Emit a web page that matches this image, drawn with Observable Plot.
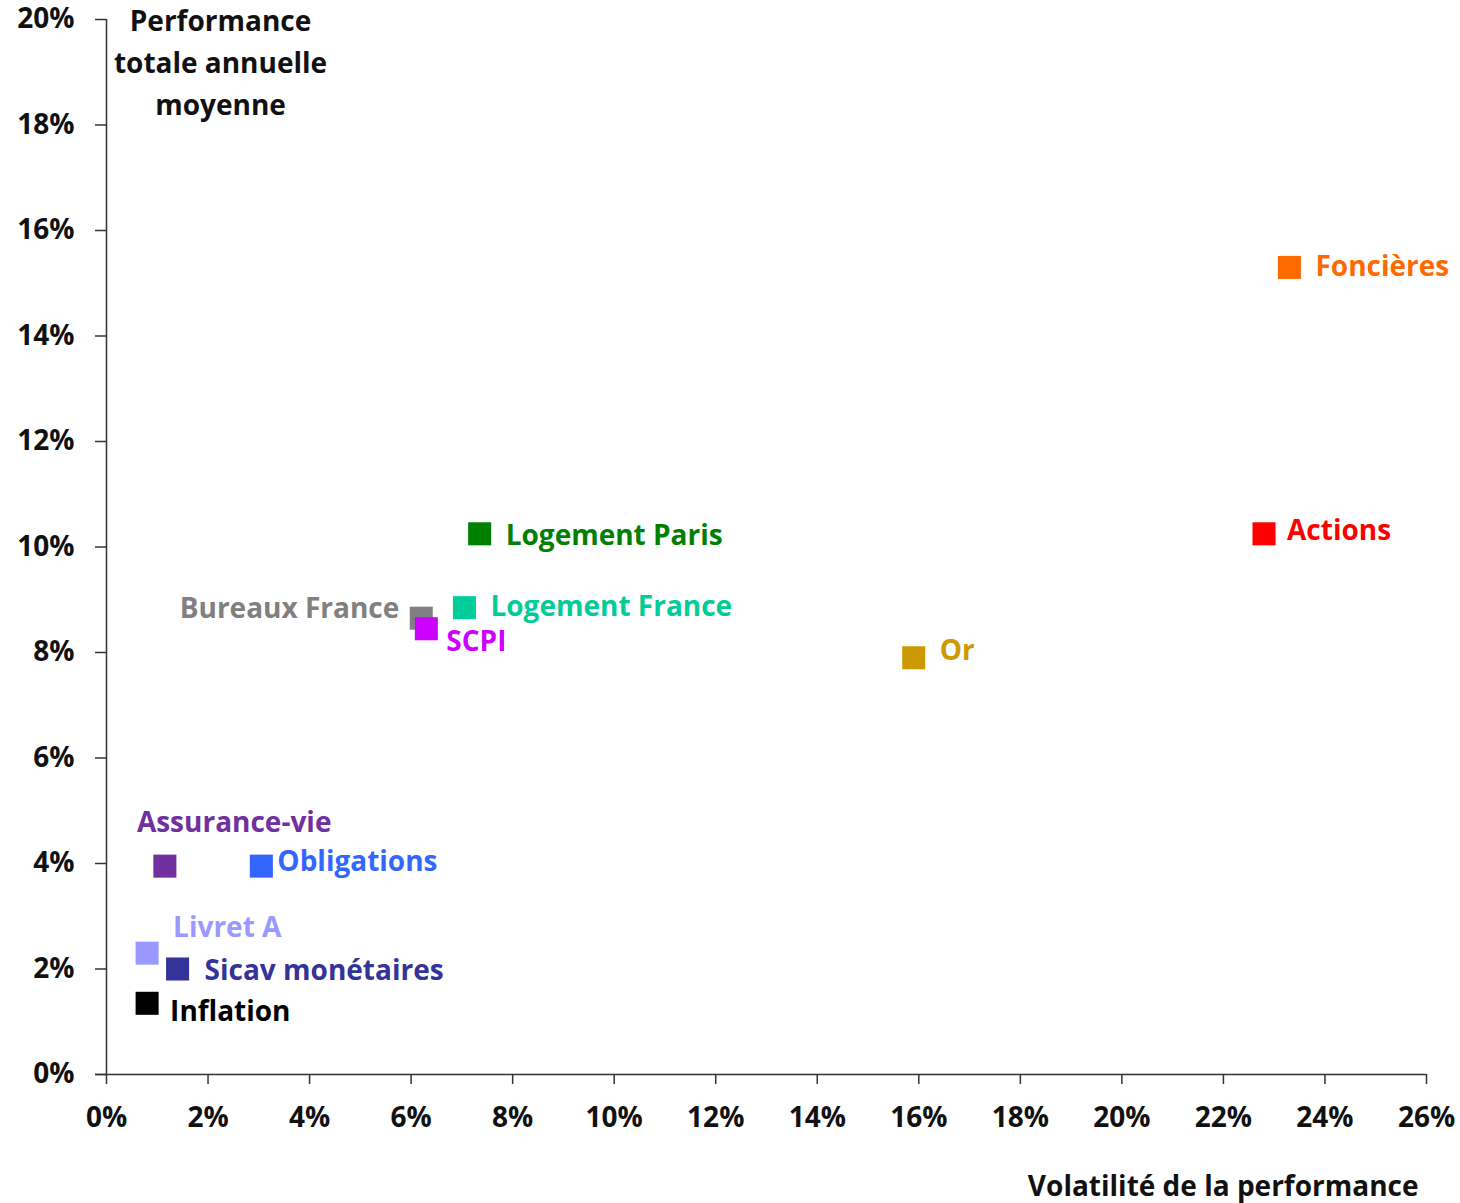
<!DOCTYPE html>
<html>
<head>
<meta charset="utf-8">
<script src="https://cdn.jsdelivr.net/npm/d3@7"></script>
<script src="https://cdn.jsdelivr.net/npm/@observablehq/plot@0.6"></script>
<style>
  html, body { margin: 0; padding: 0; background: #fff; }
  #chart { width: 1460px; height: 1203px; }
</style>
</head>
<body>
<div id="chart"></div>
<script>
// ---- Data ----
const names = ["Foncières", "Actions", "Logement Paris", "Bureaux France", "Logement France", "SCPI", "Or",
               "Assurance-vie", "Obligations", "Livret A", "Sicav monétaires", "Inflation"];
const volatility = [23.3, 22.8, 7.35, 6.2, 7.05, 6.3, 15.9, 1.15, 3.05, 0.8, 1.4, 0.8];
const performance = [15.3, 10.25, 10.25, 8.65, 8.85, 8.45, 7.9, 3.95, 3.95, 2.3, 2.0, 1.35];
const colors = ["#FF6A00", "#FF0000", "#008000", "#808080", "#00CC99", "#CC00FF", "#CC9900",
                "#7030A0", "#3366FF", "#9999FF", "#333399", "#000000"];
const xTicks = d3.range(0, 27, 2);
const yTicks = d3.range(0, 21, 2);
const xTitle = "Volatilité de la performance";
const yTitle = "Performance\ntotale annuelle\nmoyenne";

// ---- Label placement (layout only) ----
const labelLayout = {
  "Foncières":        {dx: 26, dy: 0,   anchor: "start"},
  "Actions":          {dx: 23, dy: -3,  anchor: "start"},
  "Logement Paris":   {dx: 26, dy: 2,   anchor: "start"},
  "Bureaux France":   {dx: -22, dy: -9, anchor: "end"},
  "Logement France":  {dx: 26, dy: -1,  anchor: "start"},
  "SCPI":             {dx: 20, dy: 13,  anchor: "start"},
  "Or":               {dx: 26, dy: -7,  anchor: "start"},
  "Assurance-vie":    {dx: -28, dy: -43, anchor: "start"},
  "Obligations":      {dx: 16, dy: -4,  anchor: "start"},
  "Livret A":         {dx: 26, dy: -25, anchor: "start"},
  "Sicav monétaires": {dx: 27, dy: 2,   anchor: "start"},
  "Inflation":        {dx: 23, dy: 9,   anchor: "start"}
};

const data = names.map((n, i) => ({name: n, vol: volatility[i], perf: performance[i], color: colors[i]}));

const font = "'Open Sans', Lato, sans-serif";
const pct = d => d + "%";
const FS = 28;

const labelMarks = data.map(d => {
  const L = labelLayout[d.name];
  return Plot.text([d], {
    x: "vol", y: "perf", text: "name", fill: "color",
    dx: L.dx, dy: L.dy, textAnchor: L.anchor,
    fontSize: FS, fontWeight: 700
  });
});

const chart = Plot.plot({
  width: 1460,
  height: 1203,
  marginLeft: 106,
  marginRight: 34,
  marginTop: 19,
  marginBottom: 129,
  style: {fontFamily: font, background: "#fff", overflow: "visible"},
  x: {domain: [0, 26]},
  y: {domain: [0, 20]},
  color: {type: "identity"},
  marks: [
    Plot.ruleY([0], {stroke: "#333", strokeWidth: 1.5, insetLeft: -11}),
    Plot.ruleX([0], {stroke: "#333", strokeWidth: 1.5}),
    Plot.axisX({ticks: xTicks, tickFormat: pct, tickSize: 10, tickPadding: 23,
                fontSize: FS, fontWeight: 700, fill: "#111", stroke: "#333", strokeWidth: 1.5, label: null}),
    Plot.axisY({ticks: yTicks, tickFormat: pct, tickSize: 11, tickPadding: 21,
                fontSize: FS, fontWeight: 700, fill: "#111", stroke: "#333", strokeWidth: 1.5, label: null}),
    Plot.dot(data, {x: "vol", y: "perf", symbol: "square", r: 13, fill: "color", stroke: null}),
    ...labelMarks,
    Plot.text([yTitle], {frameAnchor: "top-left", dx: 114, dy: 40, textAnchor: "middle",
                         lineAnchor: "middle", lineHeight: 1.5, fontSize: FS, fontWeight: 700, fill: "#111"}),
    Plot.text([xTitle], {frameAnchor: "bottom-right", dx: -8, dy: 121, textAnchor: "end",
                         fontSize: FS, fontWeight: 700, fill: "#111"})
  ]
});
document.getElementById("chart").appendChild(chart);
</script>
</body>
</html>
